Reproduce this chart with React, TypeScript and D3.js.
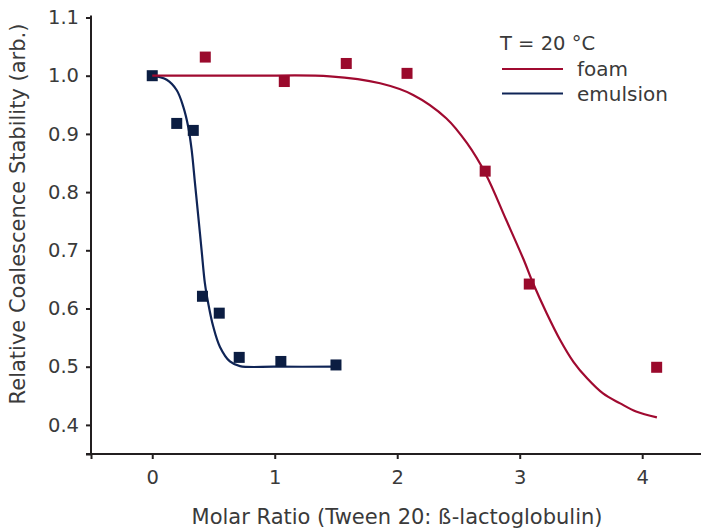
import React, { useEffect, useRef } from 'react'
import * as d3 from 'd3'

// measured points (molar ratio, relative stability)
const emulsionX = [0, 0.2, 0.335, 0.41, 0.547, 0.71, 1.05, 1.5]
const emulsionY = [1.0, 0.918, 0.906, 0.621, 0.592, 0.516, 0.509, 0.503]
const foamX = [0.433, 1.078, 1.584, 2.08, 2.718, 3.078, 4.118]
const foamY = [1.032, 0.99, 1.021, 1.004, 0.836, 0.642, 0.499]

// fitted curves
const emulsionFitX = [0, 0.118, 0.2, 0.253, 0.294, 0.322, 0.349, 0.376, 0.403, 0.43, 0.457, 0.498, 0.553, 0.634, 0.716, 1.0, 1.505]
const emulsionFitY = [1.0, 0.993, 0.975, 0.947, 0.912, 0.872, 0.815, 0.758, 0.7, 0.643, 0.609, 0.569, 0.534, 0.509, 0.501, 0.5, 0.5]
const foamFitX = [0, 0.8, 1.45, 1.86, 2.13, 2.4, 2.57, 2.72, 2.89, 3.03, 3.11, 3.22, 3.33, 3.44, 3.55, 3.68, 3.82, 3.95, 4.12]
const foamFitY = [1.0, 1.0, 0.999, 0.987, 0.967, 0.927, 0.884, 0.832, 0.752, 0.685, 0.643, 0.592, 0.546, 0.508, 0.48, 0.454, 0.437, 0.423, 0.413]

const xTicks = [-0.5, 0, 1, 2, 3, 4]
const yTicks = [0.35, 0.4, 0.5, 0.6, 0.7, 0.8, 0.9, 1.0, 1.1]

const legendTitle = 'T = 20 °C'
const seriesNames = ['foam', 'emulsion']

const FOAM = '#a00a30'
const FOAM_PT = '#9a0a2c'
const EMUL = '#0f2456'
const EMUL_PT = '#0b1d42'
const INK = '#231f20'
const TXT = '#3a3a3a'
const FONT = 'DejaVu Sans'

export default function App() {
    const ref = useRef<HTMLDivElement>(null)

    useEffect(() => {
        const root = d3.select(ref.current)
        root.selectAll('*').remove()

        const W = 702, H = 531
        const svg = root.append('svg').attr('width', W).attr('height', H)
            .style('font-family', FONT)

        const x = d3.scaleLinear().domain([-0.5, 4.48]).range([91, 701])
        const y = d3.scaleLinear().domain([0.35, 1.1]).range([454, 17.5])

        // axes
        const yAxis = d3.axisLeft(y).tickValues(yTicks).tickSize(5).tickPadding(7)
            .tickFormat((d: any) => (d === 0.35 ? '' : d3.format('.1f')(d)))
        const gy = svg.append('g').attr('transform', `translate(${x(-0.5)},0)`).call(yAxis)
        gy.select('.domain').attr('stroke', INK).attr('stroke-width', 2).attr('d', `M-5,${y(0.35)}H0V${y(1.1) - 2}`)
        gy.selectAll('.tick line').attr('stroke', INK).attr('stroke-width', 2)
        gy.selectAll('.tick text').attr('fill', TXT).style('font-size', '19.5px').style('font-family', FONT)

        const xAxis = d3.axisBottom(x).tickValues(xTicks).tickSize(5).tickPadding(11)
            .tickFormat((d: any) => (d === -0.5 ? '' : String(d)))
        const gx = svg.append('g').attr('transform', `translate(0,${y(0.35)})`).call(xAxis)
        gx.select('.domain').attr('stroke', INK).attr('stroke-width', 2).attr('d', `M${x(-0.5)},0H${x(4.48)}`)
        gx.selectAll('.tick line').attr('stroke', INK).attr('stroke-width', 2)
        gx.selectAll('.tick text').attr('fill', TXT).style('font-size', '19.5px').style('font-family', FONT)

        // axis titles
        svg.append('text')
            .attr('x', 397).attr('y', 524)
            .attr('text-anchor', 'middle')
            .attr('fill', TXT)
            .style('font-size', '21px')
            .text('Molar Ratio (Tween 20: ß-lactoglobulin)')

        svg.append('text')
            .attr('transform', 'translate(25,214) rotate(-90)')
            .attr('text-anchor', 'middle')
            .attr('fill', TXT)
            .style('font-size', '21px')
            .text('Relative Coalescence Stability (arb.)')

        const line = d3.line<[number, number]>()
            .x(d => x(d[0]))
            .y(d => y(d[1]))
            .curve(d3.curveCatmullRom.alpha(0.5))

        const sq = 11
        const drawPoints = (xs: number[], ys: number[], color: string) => {
            svg.append('g').selectAll('rect')
                .data(d3.zip(xs, ys))
                .enter().append('rect')
                .attr('x', d => x(d[0]) - sq / 2)
                .attr('y', d => y(d[1]) - sq / 2)
                .attr('width', sq).attr('height', sq)
                .attr('fill', color)
        }

        // emulsion
        svg.append('path')
            .attr('d', line(d3.zip(emulsionFitX, emulsionFitY) as [number, number][]))
            .attr('fill', 'none').attr('stroke', EMUL).attr('stroke-width', 2.2)
        drawPoints(emulsionX, emulsionY, EMUL_PT)

        // foam
        svg.append('path')
            .attr('d', line(d3.zip(foamFitX, foamFitY) as [number, number][]))
            .attr('fill', 'none').attr('stroke', FOAM).attr('stroke-width', 2.2)
        drawPoints(foamX, foamY, FOAM_PT)

        // legend
        const lg = svg.append('g').attr('transform', 'translate(500,0)')
        lg.append('text').attr('x', 0).attr('y', 50).attr('fill', TXT)
            .style('font-size', '19.5px').text(legendTitle)
        const legendColors = [FOAM, EMUL]
        seriesNames.forEach((name, i) => {
            const cy = 69 + i * 24.5
            lg.append('line').attr('x1', 2).attr('x2', 63).attr('y1', cy).attr('y2', cy)
                .attr('stroke', legendColors[i]).attr('stroke-width', 2.2)
            lg.append('text').attr('x', 77).attr('y', cy + 7).attr('fill', TXT)
                .style('font-size', '20px').text(name)
        })
    }, [])

    return (
        <div ref={ref} style={{ position: 'absolute', left: 0, top: 0 }} />
    )
}
